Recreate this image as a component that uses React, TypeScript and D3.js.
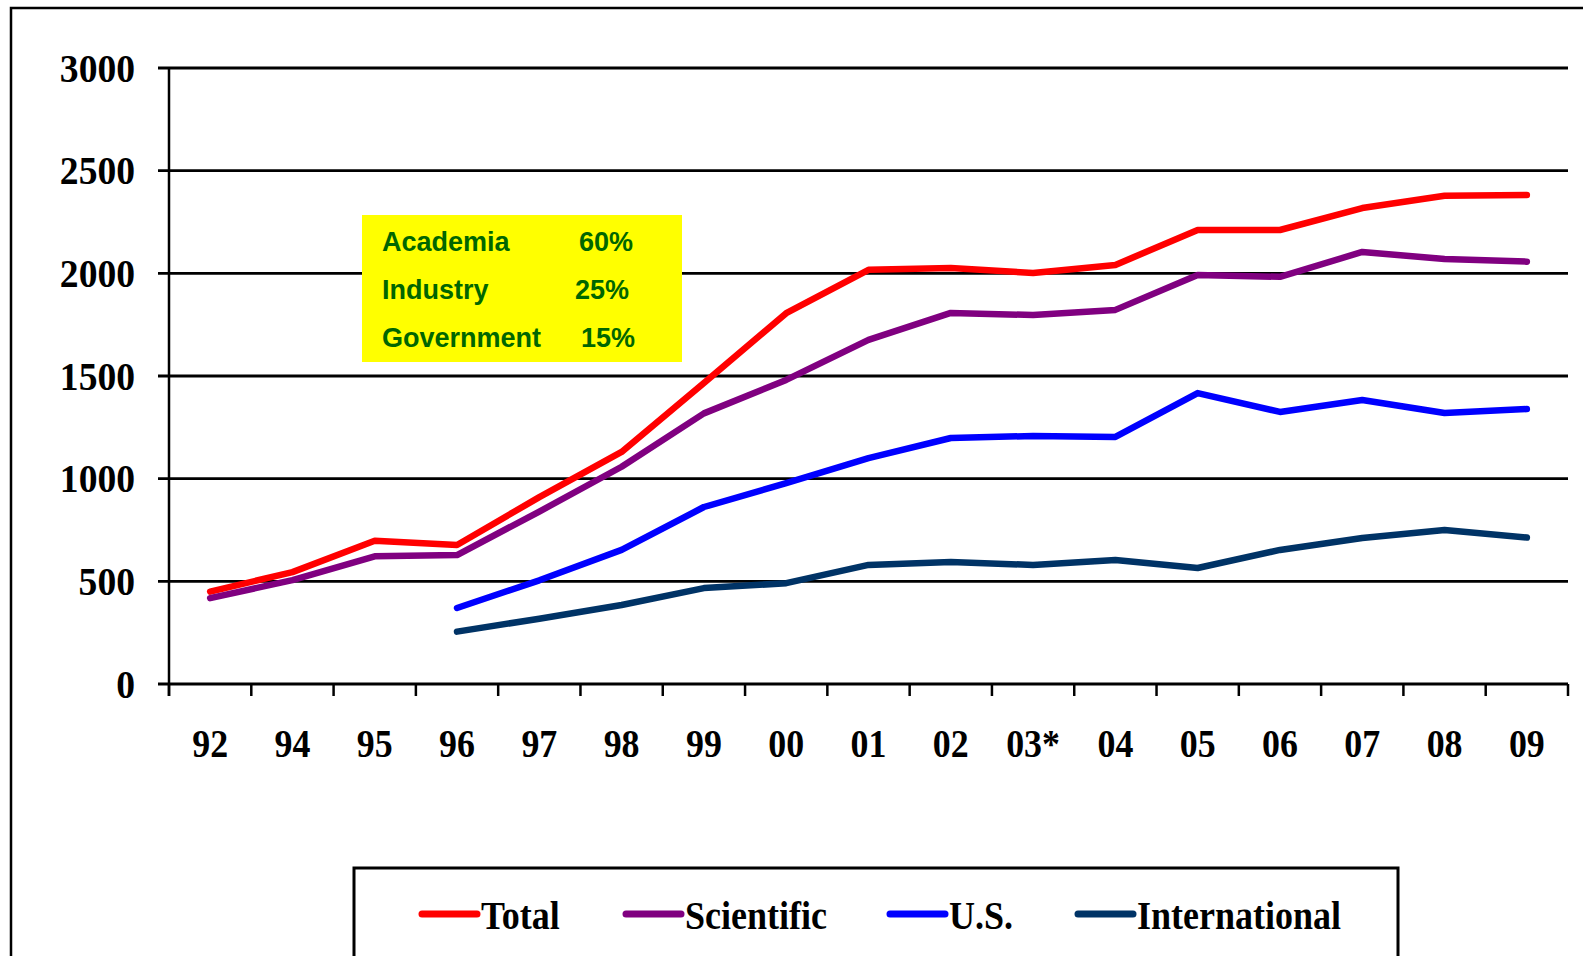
import React from 'react';
import * as d3 from 'd3';

const categories = ['92', '94', '95', '96', '97', '98', '99', '00', '01', '02', '03*', '04', '05', '06', '07', '08', '09'];
const totalValues = [450, 545, 698, 677, 910, 1130, 1466, 1806, 2017, 2026, 2002, 2041, 2211, 2211, 2318, 2378, 2382];
const scientificValues = [418, 506, 622, 628, 840, 1058, 1318, 1481, 1676, 1807, 1797, 1822, 1992, 1983, 2104, 2070, 2057];
const usValues = [null, null, null, 370, 505, 653, 862, 978, 1100, 1198, 1208, 1203, 1417, 1325, 1383, 1320, 1339];
const intlValues = [null, null, null, 255, 318, 385, 467, 491, 580, 594, 580, 604, 565, 653, 711, 750, 713];
const yTicks = [0, 500, 1000, 1500, 2000, 2500, 3000];

const seriesNames = ['Total', 'Scientific', 'U.S.', 'International'];
const seriesColors = ['#FF0000', '#800080', '#0000FF', '#003366'];

const sectorNames = ['Academia', 'Industry', 'Government'];
const sectorShares = ['60%', '25%', '15%'];

const W = 1583;
const H = 956;

const App: React.FC = () => {
  const x = d3.scaleBand<string>().domain(categories).range([169, 1568]).padding(0);
  const y = d3.scaleLinear().domain([0, 3000]).range([684, 68]);

  const allSeries = [totalValues, scientificValues, usValues, intlValues];

  const line = d3.line<number | null>()
    .defined(d => d !== null)
    .x((_, i) => (x(categories[i]) || 0) + x.bandwidth() / 2)
    .y(d => y(d as number));

  // boundaries between categories carry the x ticks
  const xBoundaries = categories.map(c => x(c) || 0).concat([x.range()[1]]);

  const serif = '"Liberation Serif", "Times New Roman", serif';
  const sans = '"Liberation Sans", Arial, sans-serif';

  // legend positions (left of swatch for each item)
  const legendX = [422, 626, 890, 1078];
  const pctX = [579, 575, 581];

  return (
    <svg width={W} height={H} style={{ position: 'absolute', left: 0, top: 0, display: 'block', background: '#fff' }}>
      {/* outer frame, cut off at right/bottom */}
      <path d={`M11,${H + 5} L11,8 L${W + 5},8`} fill="none" stroke="#000" strokeWidth={2.5} />

      {/* gridlines */}
      {yTicks.map(t => (
        <line key={t} x1={158} x2={1568} y1={y(t)} y2={y(t)} stroke="#000" strokeWidth={2.8} />
      ))}
      {/* y axis */}
      <line x1={169} x2={169} y1={y(3000)} y2={y(0) + 12} stroke="#000" strokeWidth={2.5} />
      {/* x ticks */}
      {xBoundaries.map((bx, i) => (
        <line key={i} x1={bx} x2={bx} y1={y(0)} y2={y(0) + 12} stroke="#000" strokeWidth={2.5} />
      ))}

      {/* y tick labels */}
      {yTicks.map(t => (
        <text key={t} transform={`translate(135,${y(t) + 13.5}) scale(0.94,1)`} textAnchor="end"
          fontFamily={serif} fontWeight="bold" fontSize={40} fill="#000">{t}</text>
      ))}

      {/* x tick labels */}
      {categories.map(c => (
        <text key={c} transform={`translate(${(x(c) || 0) + x.bandwidth() / 2},757) scale(0.875,1)`} textAnchor="middle"
          fontFamily={serif} fontWeight="bold" fontSize={41} fill="#000">{c}</text>
      ))}

      {/* yellow note box */}
      <rect x={362} y={215} width={320} height={147} fill="#FFFF00" />
      {sectorNames.map((s, i) => (
        <g key={s}>
          <text x={382} y={251 + i * 48} fontFamily={sans} fontWeight="bold" fontSize={27} fill="#006600">{s}</text>
          <text x={pctX[i]} y={251 + i * 48} fontFamily={sans} fontWeight="bold" fontSize={27} fill="#006600">{sectorShares[i]}</text>
        </g>
      ))}

      {/* series lines */}
      {allSeries.map((vals, i) => (
        <path key={seriesNames[i]} d={line(vals) || ''} fill="none" stroke={seriesColors[i]}
          strokeWidth={6.5} strokeLinejoin="round" strokeLinecap="round" />
      ))}

      {/* legend */}
      <path d={`M354,${H + 5} L354,868 L1398,868 L1398,${H + 5}`} fill="none" stroke="#000" strokeWidth={3} />
      {seriesNames.map((n, i) => (
        <g key={n}>
          <line x1={legendX[i]} x2={legendX[i] + 55} y1={914} y2={914} stroke={seriesColors[i]} strokeWidth={7} strokeLinecap="round" />
          <text transform={`translate(${legendX[i] + 59},929) scale(0.9,1)`} fontFamily={serif} fontWeight="bold" fontSize={40} fill="#000">{n}</text>
        </g>
      ))}
    </svg>
  );
};

export default App;
